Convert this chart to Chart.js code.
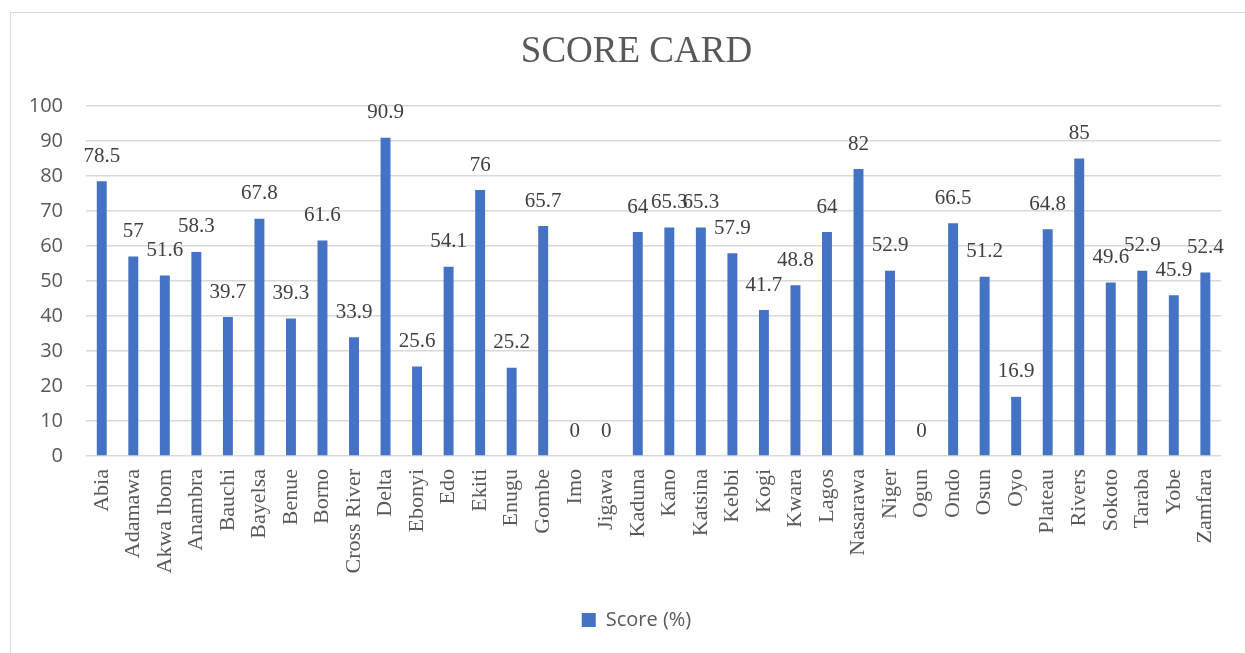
<!DOCTYPE html>
<html>
<head>
<meta charset="utf-8">
<script src="https://cdn.jsdelivr.net/npm/chart.js@4/dist/chart.umd.min.js"></script>
<style>
  html, body { margin: 0; padding: 0; background: #ffffff; overflow: hidden; }
  #frame { position: absolute; left: 10px; top: 12px; width: 1300px; height: 700px; border: 1px solid #d9d9d9; box-sizing: border-box; }
  #wrap { position: absolute; left: 0; top: 0; width: 1245px; height: 653px; }
</style>
</head>
<body>
<div id="frame"></div>
<div id="wrap"><canvas id="c" width="1245" height="653"></canvas></div>
<script>
const categories = ["Abia","Adamawa","Akwa Ibom","Anambra","Bauchi","Bayelsa","Benue","Borno","Cross River","Delta","Ebonyi","Edo","Ekiti","Enugu","Gombe","Imo","Jigawa","Kaduna","Kano","Katsina","Kebbi","Kogi","Kwara","Lagos","Nasarawa","Niger","Ogun","Ondo","Osun","Oyo","Plateau","Rivers","Sokoto","Taraba","Yobe","Zamfara"];
const scores = [78.5,57,51.6,58.3,39.7,67.8,39.3,61.6,33.9,90.9,25.6,54.1,76,25.2,65.7,0,0,64,65.3,65.3,57.9,41.7,48.8,64,82,52.9,0,66.5,51.2,16.9,64.8,85,49.6,52.9,45.9,52.4];
const seriesName = "Score (%)";
const chartTitle = "SCORE CARD";
const yTicks = [0,10,20,30,40,50,60,70,80,90,100];

const SERIF = "'Liberation Serif', 'Times New Roman', serif";
const SANS = "'Open Sans', 'Noto Sans', sans-serif";

const dataLabels = {
  id: 'dataLabels',
  afterDatasetsDraw(chart) {
    const ctx = chart.ctx;
    const meta = chart.getDatasetMeta(0);
    ctx.save();
    ctx.font = "21px " + SERIF;
    ctx.fillStyle = "#404040";
    ctx.textAlign = "center";
    ctx.textBaseline = "middle";
    meta.data.forEach((bar, i) => {
      ctx.fillText(String(scores[i]), bar.x, bar.y - 25);
    });
    ctx.restore();
  }
};

// let the y tick labels extend left of the (narrow) y scale box without being clipped
const widenYLabelArea = {
  id: 'widenYLabelArea',
  afterLayout(chart) {
    chart.scales.y.left = 0;
  }
};

new Chart(document.getElementById('c'), {
  type: 'bar',
  data: {
    labels: categories,
    datasets: [{
      label: seriesName,
      data: scores,
      backgroundColor: '#4472C4',
      borderWidth: 0,
      barPercentage: 0.63,
      categoryPercentage: 0.5
    }]
  },
  options: {
    responsive: false,
    animation: false,
    devicePixelRatio: 1,
    layout: { padding: { left: 46, right: 18, top: 0, bottom: 13 } },
    plugins: {
      title: {
        display: true,
        text: chartTitle,
        color: '#595959',
        font: { family: SERIF, size: 37, weight: 'normal', lineHeight: 1.2 },
        padding: { top: 30, bottom: 31.6 }
      },
      legend: {
        display: true,
        position: 'bottom',
        labels: {
          color: '#595959',
          font: { family: SANS, size: 20 },
          boxWidth: 14,
          boxHeight: 14,
          padding: 10
        }
      },
      tooltip: { enabled: false }
    },
    scales: {
      x: {
        grid: { display: false, drawTicks: false },
        border: { display: false },
        ticks: {
          autoSkip: false,
          maxRotation: 90,
          minRotation: 90,
          padding: 13,
          color: '#595959',
          font: { family: SERIF, size: 22 }
        },
        afterFit(scale) { scale.height = 144; }
      },
      y: {
        min: 0,
        max: 100,
        afterBuildTicks(scale) { scale.ticks = yTicks.map(v => ({ value: v })); },
        grid: { color: '#d9d9d9', lineWidth: 1.5, drawTicks: false },
        border: { display: false },
        ticks: {
          padding: 23,
          color: '#595959',
          font: { family: SANS, size: 20 }
        },
        afterFit(scale) { scale.width = 40; }
      }
    }
  },
  plugins: [dataLabels, widenYLabelArea]
});
</script>
</body>
</html>
